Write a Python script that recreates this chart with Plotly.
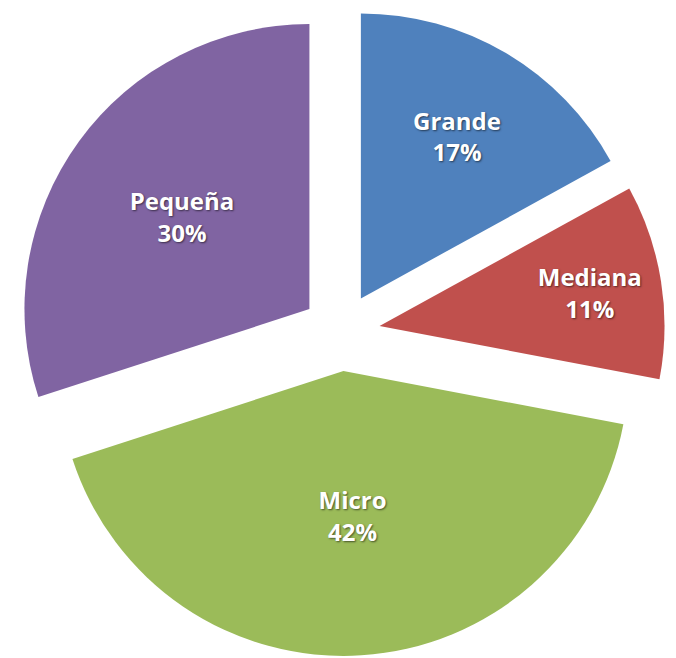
import plotly.graph_objects as go

labels = ["Grande", "Mediana", "Micro", "Pequeña"]
values = [17, 11, 42, 30]
colors = ["#4F81BD", "#C0504D", "#9BBB59", "#8064A2"]

W, H = 676, 658
pull = 0.137
cx, cy = 333, 324
half = cy  # domain touches top edge

fig = go.Figure(go.Pie(
    labels=labels,
    values=values,
    sort=False,
    direction="clockwise",
    rotation=0,
    pull=[pull] * len(values),
    marker=dict(colors=colors, line=dict(width=0)),
    texttemplate="%{label}<br>%{percent:.0%}",
    textposition="inside",
    insidetextorientation="horizontal",
    textfont=dict(family="Open Sans", size=24, color="white", weight="bold",
                  shadow="1px 1px 2px rgba(0,0,0,0.55)"),
    hoverinfo="label+percent",
    showlegend=False,
    domain=dict(x=[(cx - half) / W, (cx + half) / W],
                y=[max(0, 1 - (cy + half) / H), 1]),
))
fig.update_layout(
    width=W, height=H,
    margin=dict(l=0, r=0, t=0, b=0),
    paper_bgcolor="white",
    plot_bgcolor="white",
)
fig.write_html("out.html")
